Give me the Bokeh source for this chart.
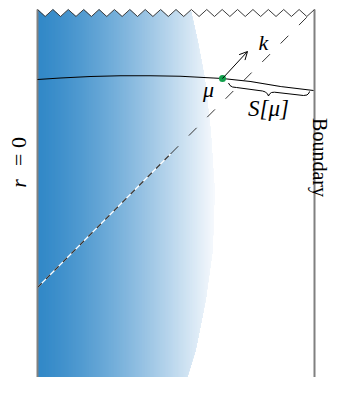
import numpy as np
from bokeh.plotting import figure
from bokeh.models import Range1d, Arrow, OpenHead
from bokeh.core.properties import value
from bokeh.embed import file_html
from bokeh.resources import INLINE

# ---- diagram geometry (page pixels) ----
wall_left_x = [37, 37]
wall_right_x = [314, 314]
wall_y = [9, 392]

zig_x0, zig_x1 = 37, 314
zig_teeth = 18
zig_peak_y, zig_valley_y = 9, 16

# right edge of the blue (shaded) region
edge_y = [9, 40, 77, 130, 190, 250, 300, 350, 392]
edge_x = [190, 197, 204, 210, 214, 212, 205, 195, 182]
blue_bottom = 391
grad_left = (39, 130, 197)
grad_right = (246, 249, 253)

# light ray from r=0 to boundary corner
ray_x = [37, 314]
ray_y = [287, 9]
ray_split_x = 170

# Cauchy slice
slice_x = [37, 60, 90, 120, 150, 180, 222, 250, 280, 313]
slice_y = [79, 77.5, 76, 75.3, 75.2, 75.8, 78, 81, 86, 90]

# brace under S[mu]
brace_x = [228, 229.5, 232, 236, 262, 265, 267, 268, 269, 271, 274, 303, 306.5, 308.5, 309]
brace_y = [82.5, 85, 86.5, 87, 90.5, 91.5, 93.5, 95.5, 93.5, 92, 91.7, 95, 94.5, 92.5, 91]

mu_point = (222, 78)
k_tip = (247, 51)

labels = ["k", "μ", "S[μ]"]
label_x = [263, 208, 268]
label_y = [42, 89, 108]
label_size = ["22px", "22px", "23px"]

p = figure(width=333, height=377, x_range=Range1d(0, 333), y_range=Range1d(377, 0),
           output_backend="svg", toolbar_location=None, min_border=0,
           x_axis_location=None, y_axis_location=None)
p.grid.visible = False
p.outline_line_color = None
p.background_fill_color = "white"
p.border_fill_color = "white"

# ---- gradient fill via thin vertical strips ----
zx = np.linspace(zig_x0, zig_x1, 2 * zig_teeth + 1)
zy = np.array([zig_peak_y if i % 2 == 0 else zig_valley_y for i in range(len(zx))], dtype=float)
yy = np.linspace(edge_y[0], edge_y[-1], 2000)
ex = np.interp(yy, edge_y, edge_x)
lefts, rights, tops, bottoms, colors = [], [], [], [], []
xmax = max(edge_x)
for xl in np.arange(wall_left_x[0], xmax, 1.0):
    xc = xl + 0.5
    inside = ex > xc
    if not inside.any():
        continue
    y1 = yy[inside].min()
    y2 = yy[inside].max()
    top = max(y1, np.interp(xc, zx, zy))
    bot = min(y2, blue_bottom)
    t = (xc - wall_left_x[0]) / (xmax - wall_left_x[0])
    t = t ** 1.3
    c = tuple(int(round(a + (b - a) * t)) for a, b in zip(grad_left, grad_right))
    lefts.append(xl); rights.append(xl + 1.4); tops.append(top); bottoms.append(bot)
    colors.append("#%02x%02x%02x" % c)
p.quad(left=lefts, right=rights, top=tops, bottom=bottoms, fill_color=colors, line_color=None)

# walls
p.line(wall_left_x, wall_y, line_color="#808080", line_width=2)
p.line(wall_right_x, wall_y, line_color="#808080", line_width=2)
# zigzag singularity
p.line(zx, zy, line_color="#3a3a3a", line_width=1)

# light ray: white underlay + dashes in the shaded part, dashes above
split_y = float(np.interp(ray_split_x, ray_x, ray_y))
p.line([ray_x[0], ray_split_x], [ray_y[0], split_y], line_color="white", line_width=1.2)
p.line([ray_x[0], ray_split_x], [ray_y[0], split_y], line_color="#333333", line_width=1.2,
       line_dash="6 6")
p.line([ray_split_x, ray_x[1]], [split_y, ray_y[1]], line_color="#333333", line_width=1,
       line_dash="11 15")

# slice
p.line(slice_x, slice_y, line_color="black", line_width=1.1)
# brace
p.line(brace_x, brace_y, line_color="black", line_width=1)

# arrow k
p.add_layout(Arrow(end=OpenHead(size=8, line_width=1, line_color="black"),
                   x_start=mu_point[0], y_start=mu_point[1], x_end=k_tip[0], y_end=k_tip[1],
                   line_color="black", line_width=1))
p.scatter([mu_point[0]], [mu_point[1]], size=7, fill_color="#12a04c", line_color=None)

for t_, x_, y_, s_ in zip(labels, label_x, label_y, label_size):
    p.text(x=[x_], y=[y_], text=[t_], text_font=value("Liberation Serif"),
           text_font_style="italic", text_font_size=s_, text_align="center",
           text_baseline="middle", text_color="black")

# rotated labels
p.text(x=[18], y=[183], text=["r"], angle=np.pi / 2, text_font=value("Liberation Serif"),
       text_font_style="italic", text_font_size="22px", text_align="center",
       text_baseline="middle", text_color="black")
p.text(x=[18], y=[151], text=["= 0"], angle=np.pi / 2, text_font=value("Liberation Serif"),
       text_font_size="22px", text_align="center", text_baseline="middle", text_color="black")
p.text(x=[319], y=[157], text=["Boundary"], angle=-np.pi / 2, text_font=value("Liberation Serif"),
       text_font_size="20px", text_align="center", text_baseline="alphabetic", text_color="black")

open("out.html", "w").write(file_html(p, INLINE))
